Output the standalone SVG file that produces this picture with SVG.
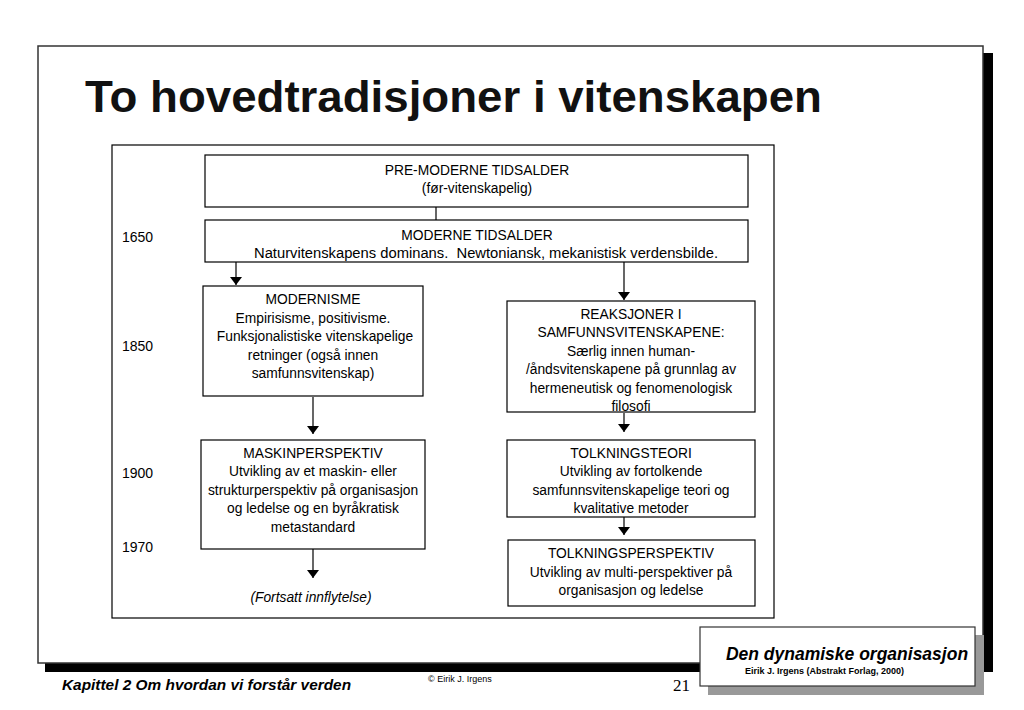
<svg xmlns="http://www.w3.org/2000/svg" width="1024" height="710" viewBox="0 0 1024 710">
<style>
.box{fill:#fff;stroke:#000;stroke-width:1.2}
.t{font-family:"Liberation Sans",Arial,sans-serif;font-size:13.8px;text-anchor:middle;fill:#000;white-space:pre}
.yr{font-family:"Liberation Sans",Arial,sans-serif;font-size:14px;fill:#000}
.ln{stroke:#000;stroke-width:1.2;fill:none}
</style>
<defs>
<marker id="ah" markerWidth="8" markerHeight="12" refX="8" refY="6" orient="auto" markerUnits="userSpaceOnUse" viewBox="0 0 8 12">
<path d="M0,0 L8,6 L0,12 Z" fill="#000"/>
</marker>
</defs>
<rect width="1024" height="710" fill="#fff"/>
<g id="frame">
<rect x="45" y="53" width="948" height="619" fill="#000"/>
<rect x="38" y="46" width="945" height="617" fill="#fff" stroke="#333" stroke-width="1.5"/>
</g>
<text x="85" y="112" font-family="Liberation Sans,Arial,sans-serif" font-weight="bold" font-size="44" textLength="737" lengthAdjust="spacingAndGlyphs" fill="#111">To hovedtradisjoner i vitenskapen</text>
<rect x="112" y="145" width="662" height="473" fill="#fff" stroke="#000" stroke-width="1.2"/>
<g id="years">
<text class="yr" x="122" y="242">1650</text>
<text class="yr" x="122" y="351">1850</text>
<text class="yr" x="122" y="478">1900</text>
<text class="yr" x="122" y="552">1970</text>
</g>
<g id="connectors">
<line class="ln" x1="436" y1="207" x2="436" y2="220"/>
<line class="ln" x1="236" y1="262" x2="236" y2="285" marker-end="url(#ah)"/>
<line class="ln" x1="624" y1="262" x2="624" y2="300" marker-end="url(#ah)"/>
<line class="ln" x1="313" y1="397" x2="313" y2="434" marker-end="url(#ah)"/>
<line class="ln" x1="624" y1="413" x2="624" y2="432" marker-end="url(#ah)"/>
<line class="ln" x1="624" y1="517" x2="624" y2="535" marker-end="url(#ah)"/>
<line class="ln" x1="313" y1="549" x2="313" y2="578" marker-end="url(#ah)"/>
</g>
<g id="premoderne">
<rect class="box" x="205" y="155" width="543" height="52"/>
<text class="t" x="477" y="175">PRE-MODERNE TIDSALDER</text>
<text class="t" x="477" y="193">(før-vitenskapelig)</text>
</g>
<g id="moderne">
<rect class="box" x="205" y="220" width="543" height="42"/>
<text class="t" x="477" y="240">MODERNE TIDSALDER</text>
<text class="t" x="486" y="258" xml:space="preserve" textLength="464" lengthAdjust="spacingAndGlyphs">Naturvitenskapens dominans.  Newtoniansk, mekanistisk verdensbilde.</text>
</g>
<g id="modernisme">
<rect class="box" x="203" y="286" width="220" height="110"/>
<text class="t" x="313" y="304">MODERNISME</text>
<text class="t" x="313" y="323">Empirisisme, positivisme.</text>
<text class="t" x="315" y="341">Funksjonalistiske vitenskapelige</text>
<text class="t" x="313" y="360">retninger (også innen</text>
<text class="t" x="313" y="378">samfunnsvitenskap)</text>
</g>
<g id="reaksjoner">
<rect class="box" x="507" y="301" width="248" height="111"/>
<text class="t" x="631" y="319">REAKSJONER I</text>
<text class="t" x="631" y="337">SAMFUNNSVITENSKAPENE:</text>
<text class="t" x="631" y="356">Særlig innen human-</text>
<text class="t" x="631" y="374">/åndsvitenskapene på grunnlag av</text>
<text class="t" x="631" y="393">hermeneutisk og fenomenologisk</text>
<text class="t" x="631" y="411">filosofi</text>
</g>
<g id="maskinperspektiv">
<rect class="box" x="201" y="440" width="224" height="109"/>
<text class="t" x="313" y="458">MASKINPERSPEKTIV</text>
<text class="t" x="313" y="476">Utvikling av et maskin- eller</text>
<text class="t" x="313" y="495">strukturperspektiv på organisasjon</text>
<text class="t" x="313" y="513">og ledelse og en byråkratisk</text>
<text class="t" x="313" y="532">metastandard</text>
</g>
<g id="tolkningsteori">
<rect class="box" x="507" y="440" width="248" height="77"/>
<text class="t" x="631" y="458">TOLKNINGSTEORI</text>
<text class="t" x="631" y="476">Utvikling av fortolkende</text>
<text class="t" x="631" y="495">samfunnsvitenskapelige teori og</text>
<text class="t" x="631" y="513">kvalitative metoder</text>
</g>
<g id="tolkningsperspektiv">
<rect class="box" x="508" y="540" width="247" height="66"/>
<text class="t" x="631" y="558">TOLKNINGSPERSPEKTIV</text>
<text class="t" x="631" y="577">Utvikling av multi-perspektiver på</text>
<text class="t" x="631" y="595">organisasjon og ledelse</text>
</g>
<g id="fortsatt">
<text class="t" x="311" y="602" font-style="italic">(Fortsatt innflytelse)</text>
</g>
<g id="footer">
<text x="62" y="690" font-family="Liberation Sans,Arial,sans-serif" font-weight="bold" font-style="italic" font-size="15.4">Kapittel 2 Om hvordan vi forstår verden</text>
<text x="428" y="682" font-family="Liberation Sans,Arial,sans-serif" font-size="9">© Eirik J. Irgens</text>
<text x="673" y="691" font-family="Liberation Serif,Times New Roman,serif" font-size="17">21</text>
</g>
<g id="bookbox">
<rect x="708" y="635" width="276" height="60" fill="#999"/>
<rect x="700" y="627" width="275" height="59" fill="#fff" stroke="#333" stroke-width="1.2"/>
<text x="847" y="660" text-anchor="middle" font-family="Liberation Sans,Arial,sans-serif" font-weight="bold" font-style="italic" font-size="17.5">Den dynamiske organisasjon</text>
<text x="745" y="674" font-family="Liberation Sans,Arial,sans-serif" font-weight="bold" font-size="9">Eirik J. Irgens (Abstrakt Forlag, 2000)</text>
</g>
</svg>
